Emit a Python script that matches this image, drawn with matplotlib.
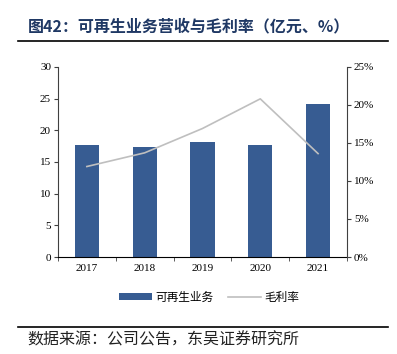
import numpy as np
import matplotlib
matplotlib.use("Agg")
import matplotlib.pyplot as plt
from matplotlib.ticker import FuncFormatter

plt.rcParams['font.family'] = ['Noto Sans CJK SC', 'DejaVu Sans']

years = ["2017", "2018", "2019", "2020", "2021"]
revenue = [17.6, 17.3, 18.2, 17.6, 24.2]
gross_margin = [11.9, 13.7, 16.9, 20.8, 13.6]

title_text = "图42：可再生业务营收与毛利率（亿元、%）"
source_text = "数据来源：公司公告，东吴证券研究所"

bar_color = "#375C92"
line_color = "#BFBFBF"
serif = "Liberation Serif"

figure = plt.figure(figsize=(3.97, 3.54), dpi=100)
axis = figure.add_axes([0.146, 0.274, 0.728, 0.537])
x_positions = np.arange(len(years))
bars = axis.bar(x_positions, revenue, width=0.42, color=bar_color, label="可再生业务", zorder=2)
axis.set_xlim(-0.5, len(years) - 0.5)
axis.set_ylim(0, 30)
axis.set_yticks(range(0, 31, 5))
axis.set_xticks(x_positions)
axis.set_xticklabels(years)
axis.set_xticks(np.arange(-0.5, len(years), 1.0), minor=True)
axis.tick_params(axis='x', which='major', length=0, pad=5)
axis.tick_params(axis='x', which='minor', length=3, direction='out', color='#404040')
axis.tick_params(axis='y', length=3, direction='out', color='#404040', pad=2)
for label in axis.get_xticklabels() + axis.get_yticklabels():
    label.set_fontfamily(serif)
    label.set_fontsize(8)
for side in ["top", "right"]:
    axis.spines[side].set_visible(False)
axis.spines["left"].set_color("#404040")
axis.spines["bottom"].set_color("black")

axis_right = axis.twinx()
line, = axis_right.plot(x_positions, gross_margin, color=line_color, linewidth=1.2, label="毛利率", zorder=3)
axis_right.set_ylim(0, 25)
axis_right.set_yticks(range(0, 26, 5))
axis_right.yaxis.set_major_formatter(FuncFormatter(lambda v, p: f"{v:.0f}%"))
axis_right.tick_params(axis='y', length=3, direction='out', color='#404040', pad=2)
for label in axis_right.get_yticklabels():
    label.set_fontfamily(serif)
    label.set_fontsize(8)
for side in ["top", "left", "bottom"]:
    axis_right.spines[side].set_visible(False)
axis_right.spines["right"].set_color("#404040")

figure.legend(handles=[bars, line], loc="center", bbox_to_anchor=(0.527, 0.161),
              ncol=2, frameon=False, fontsize=8.4, handlelength=2.8, handleheight=0.5,
              columnspacing=1.3, handletextpad=0.3)

figure.text(0.07, 0.925, title_text, fontsize=11.5, fontweight="bold", color="#1F3864",
            va="center", ha="left")
figure.add_artist(plt.Line2D([0.045, 0.978], [0.884, 0.884], color="black", linewidth=1.2,
                             transform=figure.transFigure))
figure.add_artist(plt.Line2D([0.045, 0.978], [0.077, 0.077], color="black", linewidth=1.2,
                             transform=figure.transFigure))
figure.text(0.07, 0.04, source_text, fontsize=11.5, color="#222222", va="center", ha="left")

figure.savefig("out.png", dpi=100)
